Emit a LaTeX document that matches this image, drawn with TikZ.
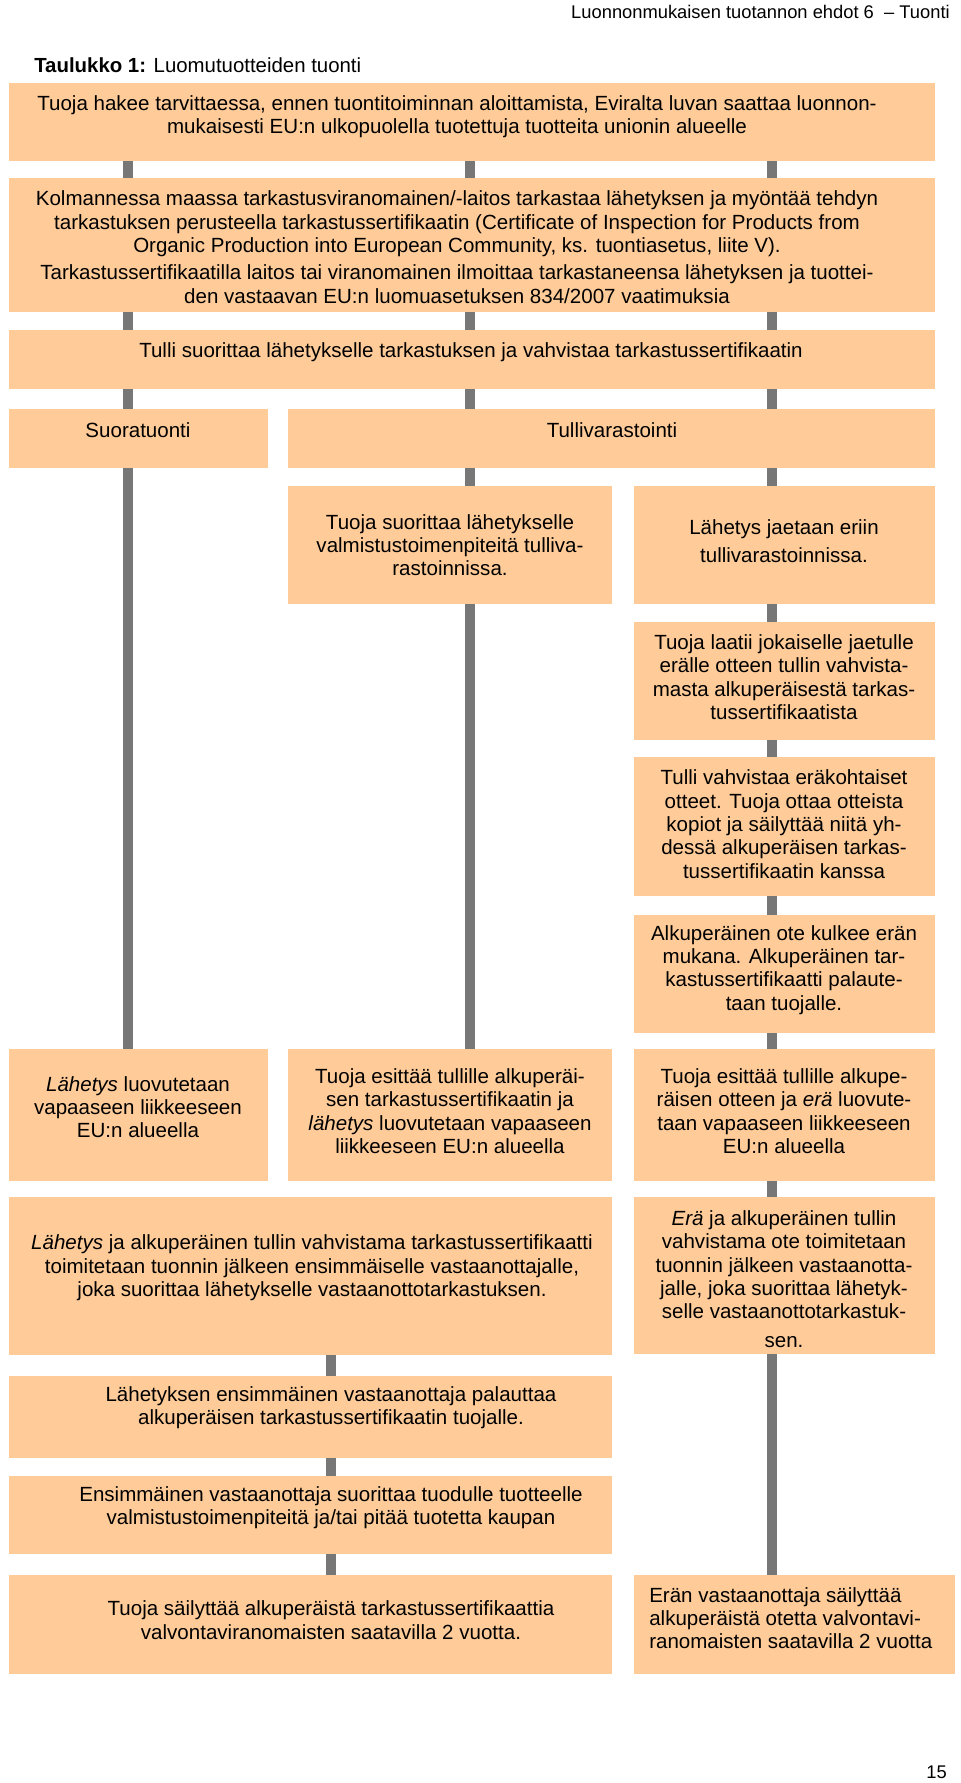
\documentclass[tikz,border=0pt]{standalone}
\usepackage{fontspec}
\setmainfont{Liberation Sans}
\usetikzlibrary{fit}
\definecolor{peach}{HTML}{FFCC99}
\definecolor{bargray}{HTML}{777777}
\begin{document}
\begin{tikzpicture}[x=0.75pt,y=-0.75pt,
  box/.style={fill=peach,draw=none,inner sep=0pt},
  bar/.style={draw=bargray,line width=7.5pt},
  txt/.style={inner sep=0pt,align=center,font=\fontsize{15.4pt}{17.5pt}\selectfont},
  txtl/.style={inner sep=0pt,align=left,anchor=west,font=\fontsize{15.4pt}{17.5pt}\selectfont}]
\useasboundingbox (0,0) rectangle (960,1783);
% header
\node[inner sep=0pt,anchor=east,font=\fontsize{13.75pt}{16pt}\selectfont] (hdr) at (950,12) {Luonnonmukaisen tuotannon ehdot 6 \ – Tuonti};
\node[inner sep=0pt,anchor=west,font=\fontsize{15.3pt}{17pt}\selectfont] (title) at (34,65) {\textbf{Taulukko 1:} Luomutuotteiden tuonti};
\node[inner sep=0pt,anchor=east,font=\fontsize{13.75pt}{16pt}\selectfont] (pnum) at (947,1772) {15};
% boxes
\node[box,fit={(9,83) (935,161)}] (b1) {};
\node[box,fit={(9,178) (935,312)}] (b2) {};
\node[box,fit={(9,330) (935,389)}] (b3) {};
\node[box,fit={(9,409) (268,468)}] (b4) {};
\node[box,fit={(288,409) (935,468)}] (b5) {};
\node[box,fit={(288,486) (612,604)}] (b6) {};
\node[box,fit={(634,486) (935,604)}] (b7) {};
\node[box,fit={(634,622) (935,740)}] (b8) {};
\node[box,fit={(634,757) (935,896)}] (b9) {};
\node[box,fit={(634,915) (935,1033)}] (b10) {};
\node[box,fit={(9,1049) (268,1181)}] (b11) {};
\node[box,fit={(288,1049) (612,1181)}] (b12) {};
\node[box,fit={(634,1049) (935,1181)}] (b13) {};
\node[box,fit={(9,1197) (612,1355)}] (b14) {};
\node[box,fit={(634,1197) (935,1354)}] (b15) {};
\node[box,fit={(9,1376) (612,1458)}] (b16) {};
\node[box,fit={(9,1476) (612,1554)}] (b17) {};
\node[box,fit={(9,1575) (612,1674)}] (b18) {};
\node[box,fit={(634,1575) (955,1674)}] (b19) {};
% connector columns
\coordinate (cL) at (128,0);
\coordinate (cM) at (470,0);
\coordinate (cR) at (772,0);
\coordinate (cD) at (331,0);
\foreach \c in {cL,cM,cR} {
  \draw[bar] (b1.south -| \c) -- (b2.north -| \c);
  \draw[bar] (b2.south -| \c) -- (b3.north -| \c);
}
\draw[bar] (b3.south -| cL) -- (b4.north -| cL);
\draw[bar] (b3.south -| cM) -- (b5.north -| cM);
\draw[bar] (b3.south -| cR) -- (b5.north -| cR);
\draw[bar] (b4.south -| cL) -- (b11.north -| cL);
\draw[bar] (b5.south -| cM) -- (b6.north -| cM);
\draw[bar] (b5.south -| cR) -- (b7.north -| cR);
\draw[bar] (b6.south -| cM) -- (b12.north -| cM);
\draw[bar] (b7.south -| cR) -- (b8.north -| cR);
\draw[bar] (b8.south -| cR) -- (b9.north -| cR);
\draw[bar] (b9.south -| cR) -- (b10.north -| cR);
\draw[bar] (b10.south -| cR) -- (b13.north -| cR);
\draw[bar] (b13.south -| cR) -- (b15.north -| cR);
\draw[bar] (b15.south -| cR) -- (b19.north -| cR);
\draw[bar] (b14.south -| cD) -- (b16.north -| cD);
\draw[bar] (b16.south -| cD) -- (b17.north -| cD);
\draw[bar] (b17.south -| cD) -- (b18.north -| cD);
% texts
\node[txt] (t1) at (457,117) {Tuoja hakee tarvittaessa, ennen tuontitoiminnan aloittamista, Eviralta luvan saattaa luonnon-\\mukaisesti EU:n ulkopuolella tuotettuja tuotteita unionin alueelle};
\node[txt] (t2) at (457,247) {Kolmannessa maassa tarkastusviranomainen/-laitos tarkastaa lähetyksen ja myöntää tehdyn\\tarkastuksen perusteella tarkastussertifikaatin (Certificate of Inspection for Products from\\Organic Production into European Community, ks. tuontiasetus, liite V).\\[3pt]Tarkastussertifikaatilla laitos tai viranomainen ilmoittaa tarkastaneensa lähetyksen ja tuottei-\\den vastaavan EU:n luomuasetuksen 834/2007 vaatimuksia};
\node[txt] (t3) at (471,352) {Tulli suorittaa lähetykselle tarkastuksen ja vahvistaa tarkastussertifikaatin};
\node[txt] (t4) at (138,430) {Suoratuonti};
\node[txt] (t5) at (612,430) {Tullivarastointi};
\node[txt] (t6) at (450,545) {Tuoja suorittaa lähetykselle\\valmistustoimenpiteitä tulliva-\\rastoinnissa.};
\node[txt] (t7) at (784,541) {Lähetys jaetaan eriin\\[3pt]tullivarastoinnissa.};
\node[txt] (t8) at (784,677) {Tuoja laatii jokaiselle jaetulle\\erälle otteen tullin vahvista-\\masta alkuperäisestä tarkas-\\tussertifikaatista};
\node[txt] (t9) at (784,824) {Tulli vahvistaa eräkohtaiset\\otteet. Tuoja ottaa otteista\\kopiot ja säilyttää niitä yh-\\dessä alkuperäisen tarkas-\\tussertifikaatin kanssa};
\node[txt] (t10) at (784,970) {Alkuperäinen ote kulkee erän\\mukana. Alkuperäinen tar-\\kastussertifikaatti palaute-\\taan tuojalle.};
\node[txt] (t11) at (138,1107) {\textit{Lähetys} luovutetaan\\vapaaseen liikkeeseen\\EU:n alueella};
\node[txt] (t12) at (450,1111) {Tuoja esittää tullille alkuperäi-\\sen tarkastussertifikaatin ja\\\textit{lähetys} luovutetaan vapaaseen\\liikkeeseen EU:n alueella};
\node[txt] (t13) at (784,1111) {Tuoja esittää tullille alkupe-\\räisen otteen ja \textit{erä} luovute-\\taan vapaaseen liikkeeseen\\EU:n alueella};
\node[txt] (t14) at (312,1268) {\textit{Lähetys} ja alkuperäinen tullin vahvistama tarkastussertifikaatti\\toimitetaan tuonnin jälkeen ensimmäiselle vastaanottajalle,\\joka suorittaa lähetykselle vastaanottotarkastuksen.};
\node[txt] (t15) at (784,1279) {\textit{Erä} ja alkuperäinen tullin\\vahvistama ote toimitetaan\\tuonnin jälkeen vastaanotta-\\jalle, joka suorittaa lähetyk-\\selle vastaanottotarkastuk-\\[4pt]sen.};
\node[txt] (t16) at (331,1408) {Lähetyksen ensimmäinen vastaanottaja palauttaa\\alkuperäisen tarkastussertifikaatin tuojalle.};
\node[txt] (t17) at (331,1508) {Ensimmäinen vastaanottaja suorittaa tuodulle tuotteelle\\valmistustoimenpiteitä ja/tai pitää tuotetta kaupan};
\node[txt] (t18) at (331,1620) {Tuoja säilyttää alkuperäistä tarkastussertifikaattia\\valvontaviranomaisten saatavilla 2 vuotta.};
\node[txtl] (t19) at (649,1618) {Erän vastaanottaja säilyttää\\alkuperäistä otetta valvontavi-\\ranomaisten saatavilla 2 vuotta};
\end{tikzpicture}
\end{document}
